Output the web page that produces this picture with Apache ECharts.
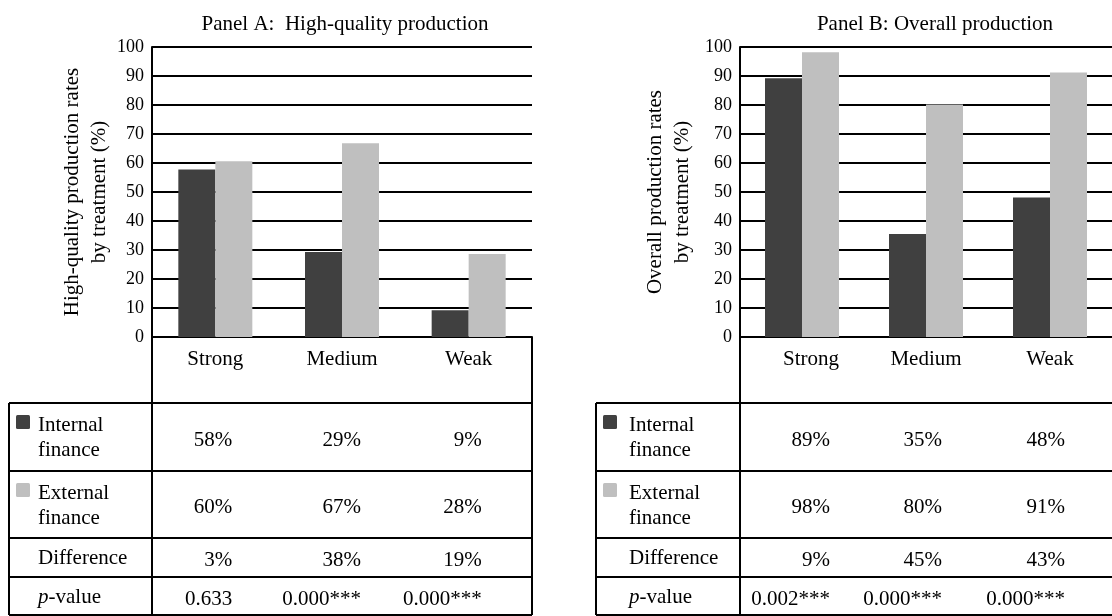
<!DOCTYPE html>
<html><head><meta charset="utf-8">
<script src="https://cdn.jsdelivr.net/npm/echarts@6/dist/echarts.min.js"></script>
<style>html,body{margin:0;padding:0;background:#fff}#c{width:1112px;height:616px}</style>
</head><body><div id="c"></div>
<script>
// ---- data ----
const categories = ['Strong', 'Medium', 'Weak'];
const seriesNames = ['Internal finance', 'External finance'];
const yTicks = [0, 10, 20, 30, 40, 50, 60, 70, 80, 90, 100];

const titleA = 'Panel A:  High-quality production';
const yNameA = 'High-quality production rates\nby treatment (%)';
const barsA_internal = [57.8, 29.3, 9.2];
const barsA_external = [60.6, 66.8, 28.6];
const tableA_internal = ['58%', '29%', '9%'];
const tableA_external = ['60%', '67%', '28%'];
const tableA_difference = ['3%', '38%', '19%'];
const tableA_pvalue = ['0.633', '0.000***', '0.000***'];

const titleB = 'Panel B: Overall production';
const yNameB = 'Overall production rates\nby treatment (%)';
const barsB_internal = [89.2, 35.5, 48.1];
const barsB_external = [98.2, 80.2, 91.2];
const tableB_internal = ['89%', '35%', '48%'];
const tableB_external = ['98%', '80%', '91%'];
const tableB_difference = ['9%', '45%', '43%'];
const tableB_pvalue = ['0.002***', '0.000***', '0.000***'];

const rowLabels = ['Internal\nfinance', 'External\nfinance', 'Difference', '{i|p}-value'];

// ---- style ----
const FONT = '"Liberation Serif", "Times New Roman", serif';
const FS = 21;      // titles, names, table text
const TFS = 18;     // tick labels
const DARK = '#404040', LIGHT = '#bfbfbf';

const chart = echarts.init(document.getElementById('c'));

function yAx(gi, name, gap) {
  return {
    type: 'value', gridIndex: gi, min: 0, max: 100, interval: 10,
    axisLine: { show: true, lineStyle: { color: '#000', width: 2 } },
    axisTick: { show: false },
    axisLabel: { color: '#000', fontFamily: FONT, fontSize: TFS, margin: 8,
      formatter: v => yTicks.indexOf(v) >= 0 ? String(v) : '' },
    splitLine: { show: true, lineStyle: { color: '#000', width: 2 } },
    name: name, nameLocation: 'middle', nameRotate: 90, nameGap: gap,
    nameTextStyle: { color: '#000', fontFamily: FONT, fontSize: FS, lineHeight: 27 }
  };
}
function xAx(gi, firstPad) {
  return {
    type: 'category', gridIndex: gi, data: categories,
    axisLine: { show: true, lineStyle: { color: '#000', width: 2 } },
    axisTick: { show: false },
    axisLabel: { color: '#000', fontFamily: FONT, fontSize: FS, margin: 12,
      formatter: (v, i) => i === 0 ? '{a|' + v + '}' : v,
      rich: { a: { fontFamily: FONT, fontSize: FS, color: '#000', padding: [0, 0, 0, firstPad] } } }
  };
}
function bar(name, data, color, gi) {
  return { type: 'bar', name, data, xAxisIndex: gi, yAxisIndex: gi, barWidth: 37, barGap: '0%',
    itemStyle: { color }, emphasis: { disabled: true } };
}

const grids = [
  { left: 152, top: 47, width: 380, height: 290 },
  { left: 740, top: 47, width: 380, height: 290 }
];

chart.setOption({
  animation: false,
  title: [
    { text: titleA, left: 340, top: 9, textAlign: 'center',
      textStyle: { fontFamily: FONT, fontSize: FS, fontWeight: 'normal', color: '#000' } },
    { text: titleB, left: 930, top: 9, textAlign: 'center',
      textStyle: { fontFamily: FONT, fontSize: FS, fontWeight: 'normal', color: '#000' } }
  ],
  grid: grids,
  xAxis: [xAx(0, 0), xAx(1, 18)],
  yAxis: [yAx(0, yNameA, 36), yAx(1, yNameB, 44)],
  series: [
    bar(seriesNames[0], barsA_internal, DARK, 0),
    bar(seriesNames[1], barsA_external, LIGHT, 0),
    bar(seriesNames[0], barsB_internal, DARK, 1),
    bar(seriesNames[1], barsB_external, LIGHT, 1)
  ]
});

// ---- data tables drawn below each chart ----
const rowLines = [403, 471, 538, 577, 615];
const tableLeft = [9, 596];
const labelInset = [29, 33];
const valueOffset = [[17, 19, 13], [28, 16, 15]];
const tables = [
  [tableA_internal, tableA_external, tableA_difference, tableA_pvalue],
  [tableB_internal, tableB_external, tableB_difference, tableB_pvalue]
];
const graphics = [];
const LS = { stroke: '#000', lineWidth: 2 };
function line(x1, y1, x2, y2) {
  graphics.push({ type: 'line', shape: { x1, y1, x2, y2 }, style: LS, silent: true });
}
[0, 1].forEach(gi => {
  const g = grids[gi];
  const gl = g.left, gr = g.left + g.width, gb = g.top + g.height;
  const tl = tableLeft[gi];
  line(gl, gb, gl, 615);
  line(gr, gb, gr, 615);
  line(tl, rowLines[0], tl, 615);
  rowLines.forEach(y => line(tl, y, gr, y));
  const labelX = tl + labelInset[gi];
  for (let r = 0; r < 4; r++) {
    const yc = (rowLines[r] + rowLines[r + 1]) / 2 + 1;
    graphics.push({ type: 'text', silent: true, style: {
      text: rowLabels[r], x: labelX, y: yc, textAlign: 'left', textVerticalAlign: 'middle',
      fill: '#000', fontFamily: FONT, fontSize: FS, lineHeight: 25,
      rich: { i: { fontStyle: 'italic', fontFamily: FONT, fontSize: FS } }
    } });
    if (r < 2) {
      graphics.push({ type: 'rect', silent: true,
        shape: { x: tl + 7, y: rowLines[r] + 12, width: 14, height: 14, r: 1.5 },
        style: { fill: r === 0 ? DARK : LIGHT } });
    }
    tables[gi][r].forEach((txt, c) => {
      const cx = chart.convertToPixel({ xAxisIndex: gi }, categories[c]);
      graphics.push({ type: 'text', silent: true, style: {
        text: txt, x: cx + valueOffset[gi][c], y: yc + 2, textAlign: 'right', textVerticalAlign: 'middle',
        fill: '#000', fontFamily: FONT, fontSize: FS
      } });
    });
  }
});
chart.setOption({ graphic: graphics });
</script></body></html>
